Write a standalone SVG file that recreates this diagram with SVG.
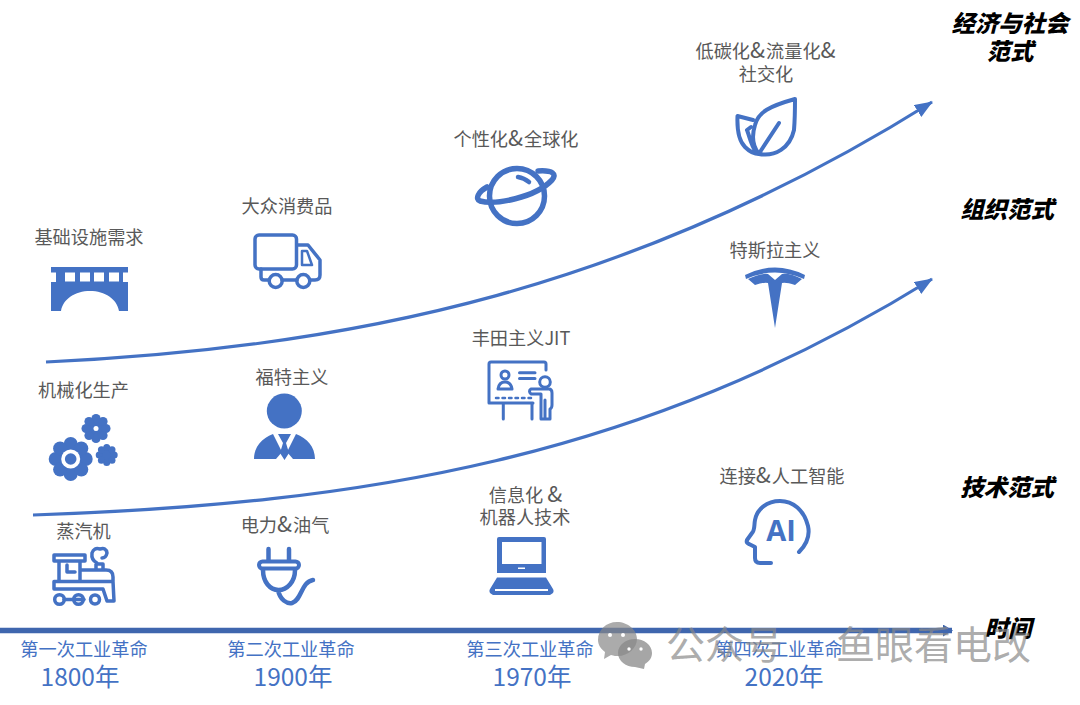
<svg xmlns="http://www.w3.org/2000/svg" width="1080" height="705" viewBox="0 0 1080 705">
<style>
text{font-family:"Noto Sans CJK SC","Noto Sans",sans-serif}
.l{font-size:18.200px;fill:#595959;text-anchor:middle}
.n{font-size:22px;letter-spacing:1px}
.t{font-size:18.200px;fill:#4472c4;text-anchor:middle}
.y{font-size:24.500px;fill:#4472c4;text-anchor:middle}
.r{font-size:23.400px;fill:#000;font-weight:900;font-style:italic;text-anchor:middle}
.s{fill:none;stroke:#4472c4;stroke-width:3.500;stroke-linecap:round;stroke-linejoin:round}
.f{fill:#4472c4}
.w{fill:#fff}
.m{font-size:39px;fill:#888;fill-opacity:.7;font-weight:400}
</style>
<defs>
<marker id="a" markerUnits="userSpaceOnUse" markerWidth="20" markerHeight="16" refX="17" refY="7" orient="auto"><path d="M0,0L18,7L0,14Z" fill="#4472c4"/></marker>
<marker id="b" markerUnits="userSpaceOnUse" markerWidth="14" markerHeight="14" refX="9" refY="6" orient="auto"><path d="M0,0L10,6L0,12Z" fill="#3f66ae"/></marker>
<g id="gear"><circle r="14.500"/><circle cx="15" cy="0" r="7"/><circle cx="-15" cy="0" r="7"/><circle cx="0" cy="15" r="7"/><circle cx="0" cy="-15" r="7"/><circle cx="10.600" cy="10.600" r="7"/><circle cx="-10.600" cy="10.600" r="7"/><circle cx="10.600" cy="-10.600" r="7"/><circle cx="-10.600" cy="-10.600" r="7"/></g>
</defs>

<g id="connectors">
<path d="M46,362C360,348 640,285 932,102" fill="none" stroke="#4472c4" stroke-width="3.200" marker-end="url(#a)"/>
<path d="M33,515C360,504 640,460 932,279" fill="none" stroke="#4472c4" stroke-width="3.200" marker-end="url(#a)"/>
<path d="M0,630.500H952" fill="none" stroke="#3f66ae" stroke-width="5.500" marker-end="url(#b)"/>
</g>

<g id="node-bridge">
<text class="l" x="89" y="244">基础设施需求</text>
<path class="f" fill-rule="evenodd" d="M51,267H128V272.500H123V282H128V311H119C117,299 105,291 90,291C75,291 63,299 61,311H51V282H56V272.500H51ZM65,272.500V281.500H75V272.500ZM80,272.500V281.500H90V272.500ZM94,272.500V281.500H104V272.500ZM109,272.500V281.500H119V272.500Z"/>
</g>
<g id="node-truck">
<text class="l" x="287" y="213">大众消费品</text>
<rect class="s" x="255" y="235" width="41.500" height="34" rx="4"/>
<path class="s" d="M297,245H308L320,260V275Q320,280 315,280H310M297,280H282M269,280H264Q261,280 261,277V269"/>
<path class="s" style="stroke-width:2.500" d="M302,251H307L312,265H302Z"/>
<circle class="s" cx="275.700" cy="281" r="6.500"/><circle class="s" cx="303.300" cy="281" r="6.500"/>
</g>
<g id="node-planet">
<text class="l" x="516" y="146">个性化<tspan class="n">&amp;</tspan>全球化</text>
<circle cx="517" cy="196" r="27.500" fill="none" stroke="#4472c4" stroke-width="5.500"/>
<path class="s" style="stroke-width:5.500" d="M487,187C478,192 475,199 480,201C495,205 535,198 552,180C557,174 553,170 538,171"/>
<path class="s" style="stroke-width:4.500" d="M518,177Q524,178 529,182"/>
</g>
<g id="node-leaf">
<text class="l" x="766" y="58">低碳化<tspan class="n">&amp;</tspan>流量化<tspan class="n">&amp;</tspan></text>
<text class="l" x="766" y="81">社交化</text>
<path class="s" style="stroke-width:4" d="M795,99C770,106 758,112 755,125C751,138 754,148 759,154C775,157 790,148 794,130C795,118 795,108 795,99Z"/>
<path class="s" style="stroke-width:4" d="M779,123L760,152M753,120L737.500,116C737,128 738,140 745,147C750,152 755,154 759,154M747,130L751,127M747,130C750,138 751,145 756,152"/>
</g>
<g id="node-gears">
<text class="l" x="83.500" y="397">机械化生产</text>
<use href="#gear" class="f" x="70.700" y="459"/>
<circle class="w" cx="70.700" cy="459" r="9.500"/><circle class="f" cx="70.700" cy="459" r="5.800"/>
<use href="#gear" class="f" transform="translate(96,428.500) scale(.66)"/>
<circle class="w" cx="96" cy="428.500" r="2.500"/>
<use href="#gear" class="f" transform="translate(106.700,455) scale(.5)"/>
</g>
<g id="node-person">
<text class="l" x="292" y="384">福特主义</text>
<circle class="f" cx="284.300" cy="411" r="17.500"/>
<path class="f" d="M254,459C254,447 262,438 273,434L282,452L276,459ZM315,459C315,447 307,438 296,434L287,452L293,459Z"/>
<path class="f" d="M278,434H291L286,443L289,453L284.500,460L280,453L283,443Z"/>
</g>
<g id="node-board">
<text class="l" x="521" y="345">丰田主义JIT</text>
<path class="s" style="stroke-width:3" d="M533,403H489V364Q489,362 491,362H544Q546,362 546,364V370"/>
<path class="s" style="stroke-width:2.500;stroke-dasharray:2.500 4" d="M496,398H532"/>
<path class="s" style="stroke-width:3" d="M503.300,404V419M532,404V419M519.500,372.700H535M519.500,378.500H535"/>
<circle class="s" style="stroke-width:3" cx="505" cy="375" r="4"/>
<path class="s" style="stroke-width:3" d="M498,389Q499,382 505,382Q511,382 512,389Z"/>
<circle class="s" style="stroke-width:3" cx="545" cy="382" r="5.300"/>
<path class="s" style="stroke-width:3" d="M531,389H549Q552,389 552,393V405Q552,408 550,409V419H541V394H531Q528,391 531,389ZM545,400V419"/>
</g>
<g id="node-tesla">
<text class="l" x="775" y="257">特斯拉主义</text>
<path class="f" d="M745,275Q775,260 805,275L804,279Q775,266 746,279Z"/>
<path class="f" d="M748,279Q762,273 768,274L775,280L782,274Q790,273 802,279L795,285Q786,282 782,283L775,328L768,283Q764,282 755,285Z"/>
</g>
<g id="node-train">
<text class="l" x="83.500" y="538">蒸汽机</text>
<path class="s" d="M54,555H85V561H54ZM59,561V581.500H80V561M67,565V572H75M80,570H106Q113,570 113,577V581.500H80M54,581.500V589H103L107,601H114L113,581.500M54,581.500H82"/>
<path class="s" d="M96,569V564H103V569M97,563Q91,560 92,553Q94,547 100,549Q106,547 107,553Q106,558 102,558"/>
<circle class="s" cx="59.500" cy="599.500" r="4.800"/><circle class="s" cx="78.500" cy="599.500" r="4.800"/><circle class="s" cx="95" cy="599.500" r="4.500"/>
<path class="s" d="M64,599.500H84"/>
</g>
<g id="node-plug">
<text class="l" x="285" y="532">电力<tspan class="n">&amp;</tspan>油气</text>
<path class="s" style="stroke-width:4.500" d="M268.500,549V561M289,549V561"/>
<rect x="259" y="561.500" width="40" height="7" rx="3.500" fill="#fff" stroke="#4472c4" stroke-width="4"/>
<path class="s" style="stroke-width:4.500" d="M263,570C263,582 270,590 278.500,590C287,590 295,582 295,570M278,590C280,600 287,604 292,603C302,600 301,582 313,580"/>
</g>
<g id="node-laptop">
<text class="l" x="526" y="502">信息化 <tspan class="n">&amp;</tspan></text>
<text class="l" x="525" y="524">机器人技术</text>
<path class="f" fill-rule="evenodd" d="M499,537H544Q546,537 546,539V573H497V539Q497,537 499,537ZM502,542V564H541.500V542ZM518,567.500V569H525V567.500Z"/>
<path class="f" fill-rule="evenodd" d="M497,577.500H546L553,589Q555,593 550,595H493Q488,593 490,589ZM495,589V591H548V589Z"/>
</g>
<g id="node-ai">
<text class="l" x="782" y="483">连接<tspan class="n">&amp;</tspan>人工智能</text>
<path class="s" style="stroke-width:4" d="M799,552C807,544 810,535 808,526C804,510 793,501 780,501C767,501 757,509 755,520C754,525 755,530 752,533L747,540Q746,543 749,544L755,547V558Q755,563 760,563H771"/>
<text x="781" y="541" text-anchor="middle" style="font-family:'Open Sans',sans-serif;font-size:29px;font-weight:700;fill:#4472c4">AI</text>
</g>

<g id="node-e1"><text class="t" x="84" y="656">第一次工业革命</text><text class="y" x="80" y="686">1800年</text></g>
<g id="node-e2"><text class="t" x="291" y="656">第二次工业革命</text><text class="y" x="293" y="686">1900年</text></g>
<g id="node-e3"><text class="t" x="530" y="656">第三次工业革命</text><text class="y" x="532" y="686">1970年</text></g>
<g id="node-e4"><text class="t" x="779" y="656">第四次工业革命</text><text class="y" x="784" y="686">2020年</text></g>

<g id="node-right">
<text class="r" x="1010" y="32">经济与社会</text>
<text class="r" x="1010" y="60">范式</text>
<text class="r" x="1007" y="218">组织范式</text>
<text class="r" x="1007" y="496">技术范式</text>
<text class="r" x="1008" y="637">时间</text>
</g>

<g id="watermark">
<path fill="#888" fill-opacity=".7" d="M617,622C606,622 598,630 598,640C598,645 601,649 605,652L604,659L611,655C614,656 616,656 618,656C628,656 637,648 637,639C637,630 628,622 617,622Z"/>
<path fill="#888" fill-opacity=".75" d="M635,639C626,639 618,645 618,653C618,661 626,667 635,667L644,669L645,664C650,661 652,657 652,653C652,645 644,639 635,639Z"/>
<circle class="w" cx="610" cy="635" r="2"/><circle class="w" cx="623" cy="635" r="2"/><circle class="w" cx="629" cy="649" r="1.700"/><circle class="w" cx="641" cy="649" r="1.700"/>
<text class="m" x="666" y="659">公众号</text>
<text class="m" x="836" y="659">鱼眼看电改</text>
</g>
</svg>
